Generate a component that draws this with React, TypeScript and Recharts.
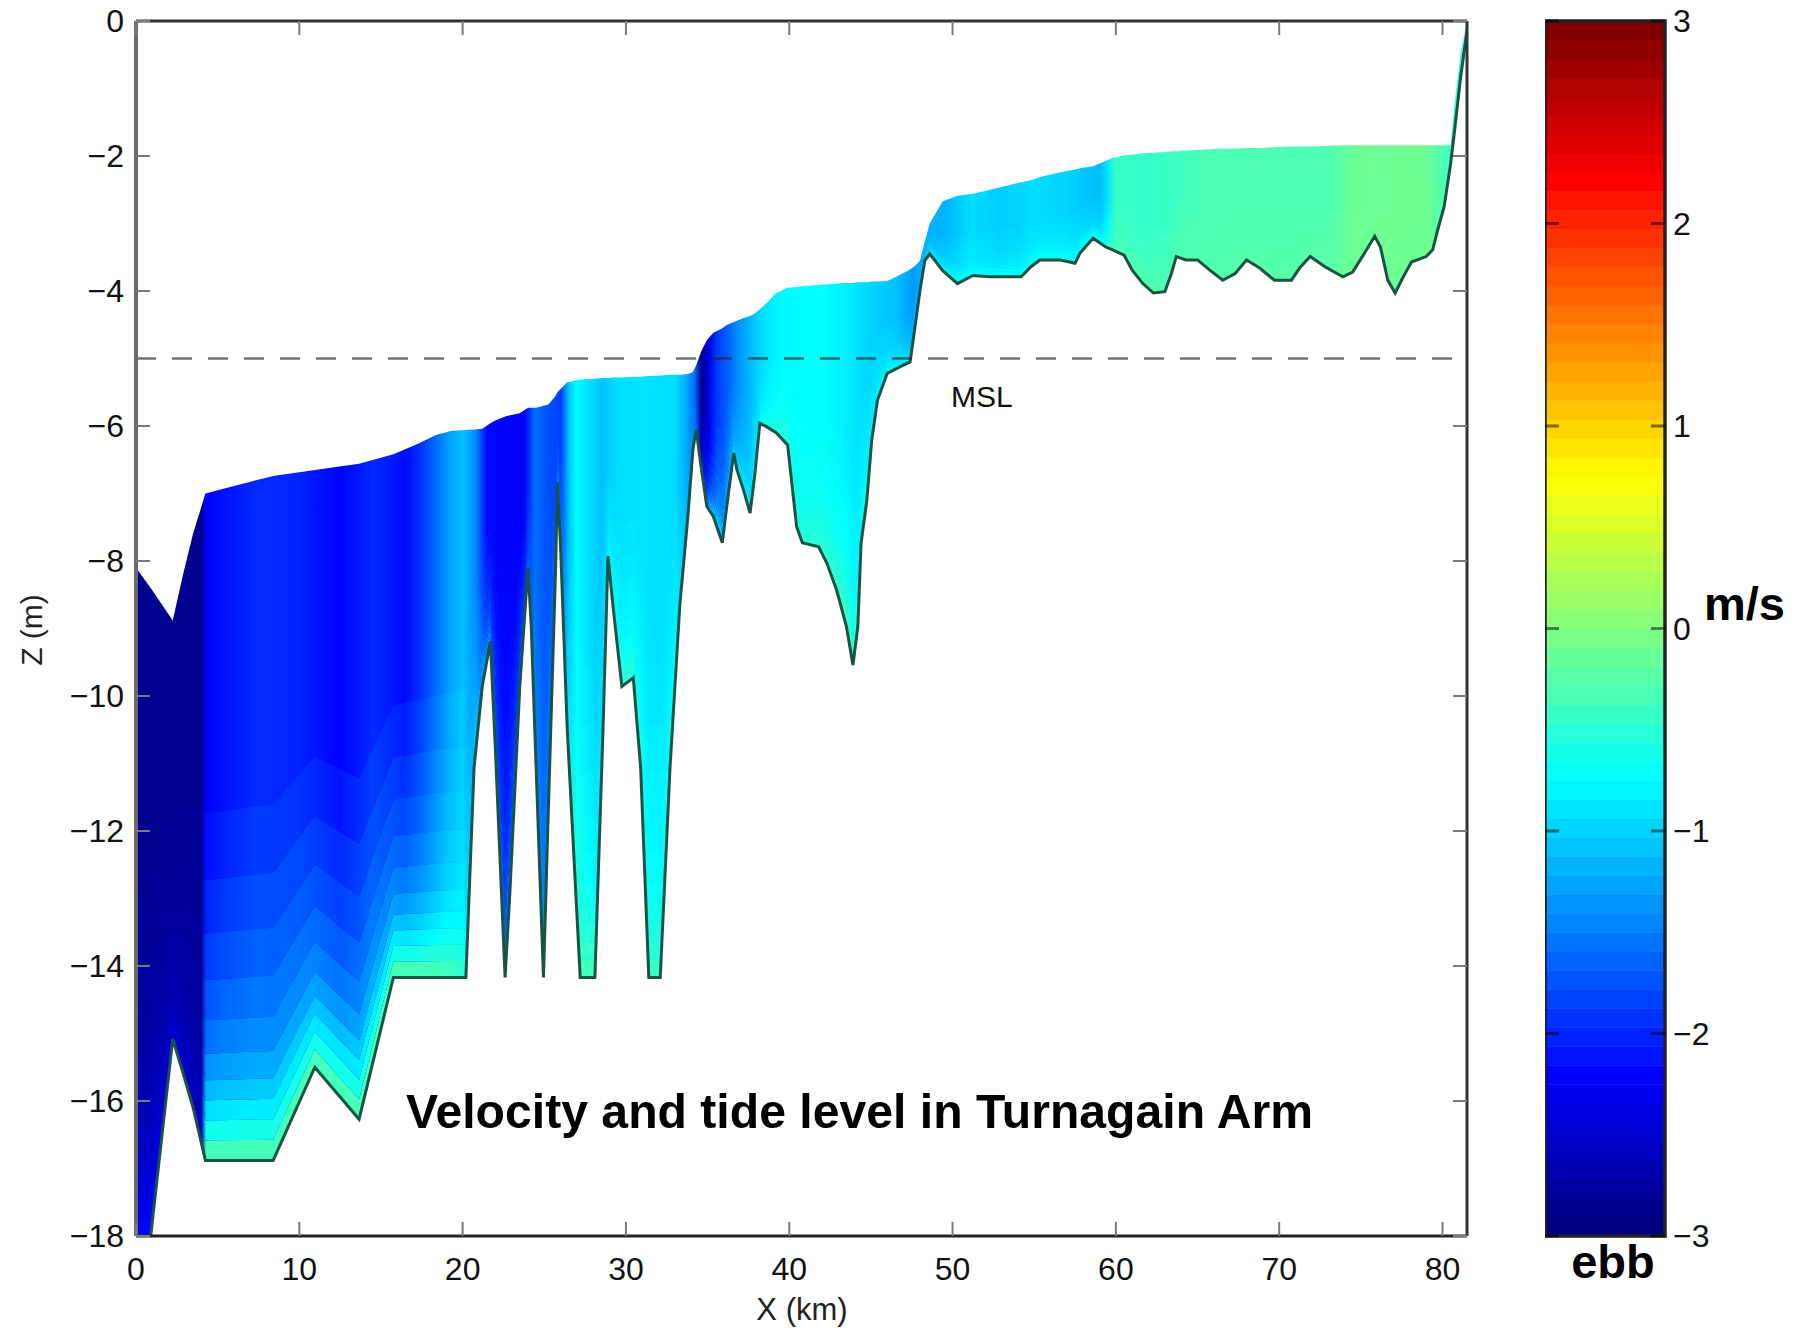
import {
  ComposedChart,
  Area,
  Line,
  XAxis,
  YAxis,
  ReferenceLine,
  ReferenceArea,
} from 'recharts';

// along-arm stations (km) with water surface and bed elevation (m)
const stationKm = [
  0.0, 0.9, 2.25, 2.9, 3.5, 4.25, 5.0, 6.6, 8.4, 10.95, 13.66, 15.76, 17.2, 18.4, 19.35, 20.2,
  20.7, 21.2, 21.7, 22.0, 22.6, 22.9, 23.5, 24.0, 24.2, 24.5, 24.95, 25.25, 25.7, 25.8, 26.0, 26.4,
  27.2, 28.1, 28.6, 28.9, 29.2, 29.75, 30.45, 30.9, 31.4, 32.1, 32.7, 33.3, 33.8, 34.1, 34.3, 34.6,
  34.95, 35.35, 35.9, 36.2, 36.6, 36.8, 37.2, 37.6, 37.9, 38.2, 38.6, 39.2, 39.9, 40.45, 40.8, 41.8,
  42.3, 42.9, 43.5, 43.9, 44.2, 44.4, 44.75, 45.05, 45.4, 46.0, 46.8, 47.4, 47.7, 48.0, 48.3, 48.6,
  49.4, 50.3, 51.25, 52.3, 54.2, 54.8, 55.35, 56.6, 57.5, 57.8, 58.6, 59.4, 59.8, 60.5, 61.0, 61.65,
  62.3, 63.0, 63.4, 63.7, 64.3, 65.0, 65.75, 66.55, 67.3, 68.0, 68.8, 69.7, 70.75, 71.25, 71.9, 72.8,
  73.9, 74.5, 75.35, 75.85, 76.2, 76.65, 77.1, 77.6, 78.1, 79.0, 79.4, 79.7, 80.1, 80.5, 80.75, 81.1,
  81.5,
];
const surfaceZ = [
  -8.1, -8.4, -8.88, -8.18, -7.59, -7.0, -6.95, -6.85, -6.74, -6.65, -6.56, -6.42, -6.27, -6.13, -6.07, -6.06,
  -6.05, -6.04, -5.96, -5.92, -5.86, -5.84, -5.81, -5.73, -5.73, -5.73, -5.7, -5.68, -5.55, -5.5, -5.45, -5.35,
  -5.31, -5.3, -5.29, -5.29, -5.28, -5.28, -5.27, -5.27, -5.26, -5.25, -5.24, -5.24, -5.23, -5.2, -5.1, -4.9,
  -4.73, -4.62, -4.55, -4.5, -4.46, -4.44, -4.4, -4.37, -4.33, -4.27, -4.18, -4.03, -3.95, -3.94, -3.93, -3.91,
  -3.9, -3.89, -3.88, -3.88, -3.87, -3.87, -3.87, -3.86, -3.86, -3.85, -3.76, -3.68, -3.63, -3.55, -3.27, -3.0,
  -2.67, -2.59, -2.56, -2.5, -2.39, -2.36, -2.31, -2.24, -2.2, -2.18, -2.15, -2.07, -2.03, -1.99, -1.98, -1.96,
  -1.95, -1.94, -1.93, -1.93, -1.92, -1.91, -1.9, -1.89, -1.89, -1.88, -1.88, -1.87, -1.86, -1.86, -1.86, -1.85,
  -1.84, -1.84, -1.84, -1.84, -1.84, -1.84, -1.84, -1.84, -1.84, -1.84, -1.84, -1.84, -1.84, -1.84, -1.2, -0.5,
  0.0,
];
const bedZ = [
  -18.0, -18.0, -15.08, -15.6, -16.1, -16.88, -16.88, -16.88, -16.88, -15.5, -16.27, -14.17, -14.17, -14.17, -14.17, -14.17,
  -11.06, -9.86, -9.19, -10.76, -14.17, -12.88, -9.86, -8.1, -8.95, -11.06, -14.17, -11.67, -8.04, -6.83, -7.8, -10.46,
  -14.17, -14.17, -10.46, -7.93, -8.65, -9.86, -9.73, -11.06, -14.17, -14.17, -11.06, -8.65, -7.32, -6.35, -6.05, -6.6,
  -7.19, -7.34, -7.73, -7.14, -6.4, -6.65, -6.95, -7.29, -6.7, -5.96, -6.01, -6.1, -6.28, -7.49, -7.73, -7.79,
  -8.03, -8.43, -8.97, -9.54, -8.97, -7.73, -7.1, -6.21, -5.62, -5.22, -5.12, -5.05, -4.53, -4.0, -3.55, -3.45,
  -3.7, -3.89, -3.77, -3.79, -3.79, -3.64, -3.54, -3.54, -3.59, -3.44, -3.22, -3.35, -3.39, -3.47, -3.69, -3.89,
  -4.03, -4.01, -3.74, -3.49, -3.54, -3.54, -3.69, -3.84, -3.74, -3.54, -3.66, -3.84, -3.84, -3.66, -3.49, -3.64,
  -3.79, -3.72, -3.39, -3.19, -3.35, -3.84, -4.03, -3.79, -3.57, -3.49, -3.39, -3.1, -2.75, -2.11, -1.6, -0.85,
  -0.15,
];

// velocity (m/s, negative = ebb) just under the surface and next to the bed
const speedKm = [
  0.0, 1.0, 2.25, 4.0, 4.3, 5.5, 7.5, 10.0, 12.5, 14.5, 16.5, 17.6, 18.4, 19.2, 20.0, 20.8,
  21.5, 23.8, 24.4, 25.4, 26.0, 26.5, 27.0, 27.8, 28.5, 29.5, 31.0, 33.0, 33.6, 34.2, 34.6, 35.1,
  35.6, 36.2, 37.0, 37.8, 38.6, 39.5, 42.0, 43.5, 45.0, 46.5, 47.6, 48.2, 49.5, 51.0, 53.0, 55.0,
  57.0, 59.0, 59.5, 60.0, 62.0, 66.0, 73.0, 74.6, 79.0, 81.5,
];
const speedTop = [
  -2.9, -2.9, -2.9, -2.9, -2.3, -2.15, -2.0, -2.05, -2.25, -2.0, -2.2, -1.9, -1.6, -1.3, -1.1, -1.45,
  -2.2, -2.3, -1.6, -1.8, -1.9, -1.1, -0.75, -0.95, -1.1, -0.95, -0.9, -0.95, -1.2, -1.6, -2.9, -2.4,
  -1.9, -1.7, -1.35, -1.1, -0.9, -0.78, -0.75, -0.85, -1.0, -1.1, -1.35, -1.2, -1.2, -0.95, -1.05, -0.95,
  -1.0, -1.15, -0.9, -0.4, -0.45, -0.3, -0.3, -0.12, -0.1, -0.6,
];
const speedBed = [
  -2.3, -2.2, -2.5, -2.6, -0.35, -0.35, -0.35, -0.35, -0.35, -0.3, -0.35, -0.35, -0.35, -0.4, -0.5, -0.9,
  -1.2, -1.3, -1.3, -1.0, -0.8, -0.6, -0.4, -0.35, -0.5, -0.55, -0.4, -0.5, -0.9, -1.2, -2.0, -1.2,
  -0.9, -0.9, -0.8, -0.7, -0.6, -0.5, -0.5, -0.35, -0.6, -0.75, -0.8, -0.7, -0.7, -0.7, -0.7, -0.65,
  -0.6, -0.6, -0.4, -0.3, -0.25, -0.25, -0.2, -0.1, -0.1, -0.3,
];

const xTicks = [0, 10, 20, 30, 40, 50, 60, 70, 80];
const zTicks = [0, -2, -4, -6, -8, -10, -12, -14, -16, -18];
const barTicks = [3, 2, 1, 0, -1, -2, -3];
const barRange = [{ p: 0, v: -3 }, { p: 1, v: 3 }];
const MSL = -5;

const X_MAX = stationKm[stationKm.length - 1];
const FONT = '"Liberation Sans", Arial, Helvetica, sans-serif';

// sigma layers above the bed (fraction of local depth) and how far each
// leans from the bed speed toward the surface speed
const bedLayers: [number, number][] = [
  [0, 0.03], [0.03, 0.06], [0.06, 0.09], [0.09, 0.12], [0.12, 0.16],
  [0.16, 0.21], [0.21, 0.27], [0.27, 0.34], [0.34, 0.42], [0.42, 0.52],
];
const layerMix = [0, 0.16, 0.3, 0.42, 0.54, 0.64, 0.72, 0.8, 0.87, 0.94];

// MATLAB jet colormap over -3..3 m/s
const jet = (v: number) => {
  const t = Math.min(1, Math.max(0, (v + 3) / 6));
  const c = (a: number) => Math.round(255 * Math.min(1, Math.max(0, a)));
  const r = c(Math.min(4 * t - 1.5, -4 * t + 4.5));
  const g = c(Math.min(4 * t - 0.5, -4 * t + 3.5));
  const b = c(Math.min(4 * t + 0.5, -4 * t + 2.5));
  return `rgb(${r},${g},${b})`;
};

const profile = stationKm.map((x, i) => {
  const s = surfaceZ[i];
  const b = bedZ[i];
  const d = s - b;
  const row: Record<string, any> = { x, bed: b, column: [b, s] };
  bedLayers.forEach(([lo, hi], k) => {
    row[`layer${k}`] = [b + lo * d, b + hi * d];
  });
  return row;
});

const speedGradient = (id: string, mix: number) => (
  <linearGradient key={id} id={id} x1="0" y1="0" x2="1" y2="0">
    {speedKm.map((x, j) => (
      <stop
        key={j}
        offset={x / X_MAX}
        stopColor={jet(speedBed[j] + (speedTop[j] - speedBed[j]) * mix)}
      />
    ))}
  </linearGradient>
);

// 64-step colour scale for the bar
const barSteps = Array.from({ length: 64 }, (_, i) => i);

const fmt = (v: number) => (v < 0 ? `\u2212${-v}` : `${v}`);
const tickStroke = '#7a7a7a';

const BottomTick = (p: any) => (
  <g>
    <line x1={p.x} x2={p.x} y1={p.y} y2={p.y - 14} stroke={tickStroke} strokeWidth={2} />
    <text x={p.x} y={p.y + 44} textAnchor="middle" fontSize={32} fill="#111">
      {fmt(p.payload.value)}
    </text>
  </g>
);
const TopTick = (p: any) => (
  <line x1={p.x} x2={p.x} y1={p.y} y2={p.y + 14} stroke={tickStroke} strokeWidth={2} />
);
const LeftTick = (p: any) => (
  <g>
    <line x1={p.x} x2={p.x + 14} y1={p.y} y2={p.y} stroke={tickStroke} strokeWidth={2} />
    <text x={p.x - 12} y={p.y + 11} textAnchor="end" fontSize={32} fill="#111">
      {fmt(p.payload.value)}
    </text>
  </g>
);
const RightTick = (p: any) => (
  <line x1={p.x} x2={p.x - 14} y1={p.y} y2={p.y} stroke={tickStroke} strokeWidth={2} />
);

const BAR_W = 120;
const BarTick = (p: any) => (
  <g>
    <line x1={p.x - BAR_W} x2={p.x - BAR_W + 14} y1={p.y} y2={p.y} stroke="rgba(0,0,0,0.5)" strokeWidth={3} />
    <line x1={p.x} x2={p.x - 14} y1={p.y} y2={p.y} stroke="rgba(0,0,0,0.5)" strokeWidth={3} />
    <text x={p.x + 8} y={p.y + 11} textAnchor="start" fontSize={32} fill="#111">
      {fmt(p.payload.value)}
    </text>
  </g>
);

export default function App() {
  return (
    <div
      style={{
        position: 'absolute',
        left: 0,
        top: 0,
        width: 1802,
        height: 1330,
        background: '#fff',
        overflow: 'hidden',
        fontFamily: FONT,
      }}
    >
      <div style={{ position: 'absolute', left: 0, top: 0 }}>
        <ComposedChart
          width={1480}
          height={1330}
          data={profile}
          margin={{ top: 20, right: 12, bottom: 0, left: 0 }}
        >
          <defs>
            {speedGradient('vel-column', 1)}
            {layerMix.map((m, k) => speedGradient(`vel-layer${k}`, m))}
          </defs>
          <XAxis
            xAxisId="x"
            dataKey="x"
            type="number"
            domain={[0, X_MAX]}
            ticks={xTicks}
            interval={0}
            height={94}
            tickSize={0}
            tickMargin={0}
            allowDataOverflow
            axisLine={{ stroke: '#222', strokeWidth: 3 }}
            tick={BottomTick}
          />
          <XAxis
            xAxisId="xt"
            dataKey="x"
            orientation="top"
            type="number"
            domain={[0, X_MAX]}
            ticks={xTicks}
            interval={0}
            height={1}
            tickSize={0}
            tickMargin={0}
            allowDataOverflow
            axisLine={{ stroke: '#333', strokeWidth: 3 }}
            tick={TopTick}
          />
          <YAxis
            yAxisId="z"
            type="number"
            domain={[-18, 0]}
            ticks={zTicks}
            interval={0}
            width={136}
            tickSize={0}
            tickMargin={0}
            allowDataOverflow
            axisLine={{ stroke: '#6a6a6a', strokeWidth: 4 }}
            tick={LeftTick}
          />
          <YAxis
            yAxisId="zr"
            orientation="right"
            type="number"
            domain={[-18, 0]}
            ticks={zTicks}
            interval={0}
            width={1}
            tickSize={0}
            tickMargin={0}
            allowDataOverflow
            axisLine={{ stroke: '#333', strokeWidth: 3 }}
            tick={RightTick}
          />

          {/* water column coloured by surface speed */}
          <Area
            xAxisId="x"
            yAxisId="z"
            type="linear"
            dataKey="column"
            stroke="none"
            fill="url(#vel-column)"
            fillOpacity={1}
            isAnimationActive={false}
          />
          {/* slower water toward the bed */}
          {bedLayers.map((_, k) => (
            <Area
              key={k}
              xAxisId="x"
              yAxisId="z"
              type="linear"
              dataKey={`layer${k}`}
              stroke="none"
              fill={`url(#vel-layer${k})`}
              fillOpacity={1}
              isAnimationActive={false}
            />
          ))}
          <Line
            xAxisId="x"
            yAxisId="z"
            type="linear"
            dataKey="bed"
            stroke="#1b5246"
            strokeWidth={3}
            dot={false}
            activeDot={false}
            isAnimationActive={false}
          />
          {/* keeps the top and right frame axes in use */}
          <Line
            xAxisId="xt"
            yAxisId="zr"
            type="linear"
            dataKey="bed"
            stroke="none"
            dot={false}
            activeDot={false}
            isAnimationActive={false}
          />
          <ReferenceLine
            xAxisId="x"
            yAxisId="z"
            y={MSL}
            stroke="rgba(40,40,40,0.65)"
            strokeWidth={2.5}
            strokeDasharray="20 16"
          />
        </ComposedChart>
      </div>

      {/* colour bar */}
      <div style={{ position: 'absolute', left: 1545, top: 0 }}>
        <ComposedChart
          width={BAR_W + 137}
          height={1330}
          data={barRange}
          margin={{ top: 21, right: 0, bottom: 94, left: 0 }}
        >
          <XAxis dataKey="p" type="number" domain={[0, 1]} hide />
          <YAxis
            orientation="right"
            type="number"
            domain={[-3, 3]}
            ticks={barTicks}
            interval={0}
            width={137}
            tickSize={0}
            tickMargin={0}
            axisLine={false}
            tick={BarTick}
          />
          <Line
            type="linear"
            dataKey="v"
            stroke="none"
            dot={false}
            activeDot={false}
            isAnimationActive={false}
          />
          {barSteps.map((i) => (
            <ReferenceArea
              key={i}
              x1={0}
              x2={1}
              y1={-3 + (i * 6) / 64}
              y2={-3 + ((i + 1) * 6) / 64}
              fill={jet(-3 + (i * 6) / 63)}
              fillOpacity={1}
              stroke={jet(-3 + (i * 6) / 63)}
              strokeWidth={0.6}
            />
          ))}
          <ReferenceArea x1={0} x2={1} y1={-3} y2={3} fill="none" stroke="#222" strokeWidth={3.5} />
        </ComposedChart>
      </div>

      {/* titles and labels */}
      <svg
        width={1802}
        height={1330}
        style={{ position: 'absolute', left: 0, top: 0, pointerEvents: 'none' }}
      >
        <text
          x={406}
          y={1128}
          fontSize={49}
          fontWeight="bold"
          fill="#000"
          textLength={907}
          lengthAdjust="spacingAndGlyphs"
        >
          Velocity and tide level in Turnagain Arm
        </text>
        <text x={951} y={407} fontSize={30} fill="#111">
          MSL
        </text>
        <text x={802} y={1320} fontSize={31} fill="#222" textAnchor="middle">
          X (km)
        </text>
        <text
          x={34}
          y={630}
          fontSize={30}
          fill="#222"
          textAnchor="middle"
          dominantBaseline="middle"
          transform="rotate(-90 34 630)"
        >
          Z (m)
        </text>
        <text x={1704} y={620} fontSize={47} fontWeight="bold" fill="#000">
          m/s
        </text>
        <text x={1613} y={1278} fontSize={47} fontWeight="bold" fill="#000" textAnchor="middle">
          ebb
        </text>
      </svg>
    </div>
  );
}
